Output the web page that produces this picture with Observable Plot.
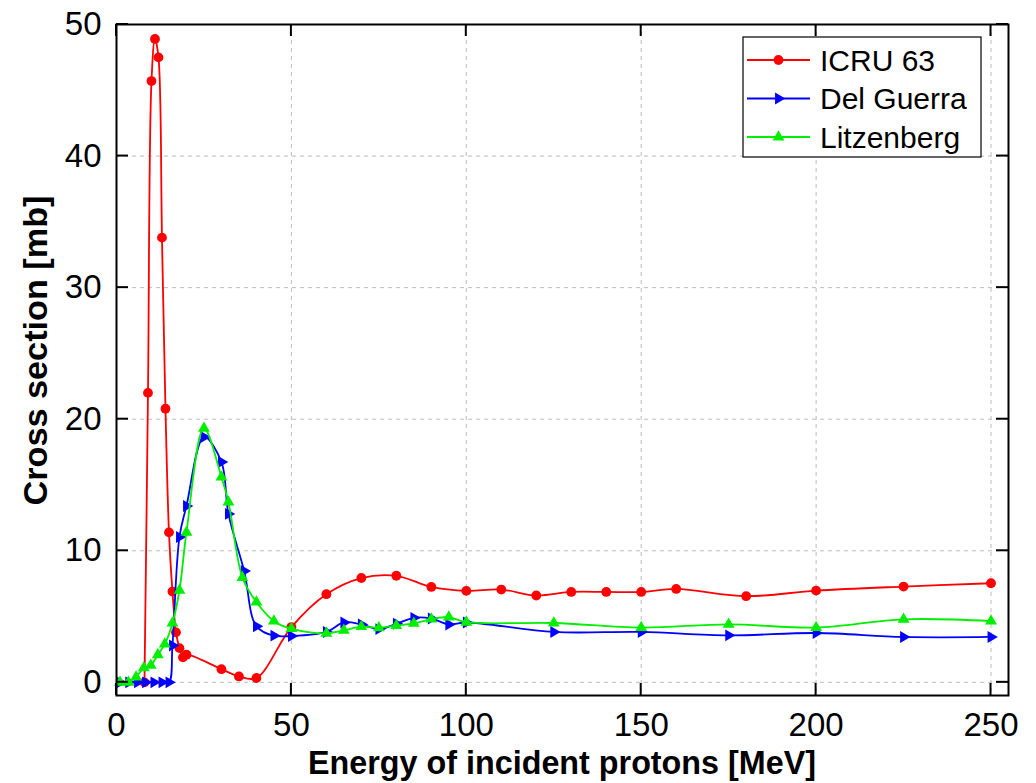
<!DOCTYPE html>
<html><head><meta charset="utf-8">
<script src="https://cdn.jsdelivr.net/npm/d3@7"></script>
<script src="https://cdn.jsdelivr.net/npm/@observablehq/plot@0.6"></script>
<style>body{margin:0;background:#fff;} svg{display:block;}</style>
</head><body><div id="chart"></div>
<script>
// ---- data (energy in MeV, cross section in mb) ----
const icruE = [8,9,10,11,12,13,14,15,16,17,18,19,20,30,35,40,50,60,70,80,90,100,110,120,130,140,150,160,180,200,225,250];
const icruS = [0,22.0,45.7,48.9,47.5,33.8,20.8,11.4,6.9,3.8,2.6,1.9,2.1,1.0,0.45,0.33,4.2,6.7,7.93,8.1,7.25,6.95,7.05,6.6,6.87,6.87,6.87,7.1,6.55,6.97,7.28,7.53];

const guerraE = [1,3.5,6,8.3,10.7,13,15,16,18,20,25,30,32,36.5,40,45,50,60,65,70,75,80,85,90,95,100,125,150,175,200,225,250];
const guerraS = [0,0,0,0,0,0,0,2.8,11.05,13.4,18.65,16.75,12.8,8.46,4.26,3.55,3.52,3.83,4.55,4.4,4.05,4.45,4.9,4.85,4.4,4.55,3.83,3.83,3.57,3.75,3.45,3.45];

const litzE = [1,3.4,5.6,7.8,9.8,11.8,13.8,16,18,20,25,30,32,36,40,45,50,60,65,70,75,80,85,90,95,100,125,150,175,200,225,250];
const litzS = [0,0,0.4,1.1,1.3,2.1,2.9,4.5,7.0,11.4,19.3,15.6,13.7,7.96,6.1,4.65,4.08,3.72,3.95,4.23,4.15,4.32,4.48,4.8,4.96,4.57,4.51,4.16,4.41,4.16,4.79,4.66];

const seriesNames = ["ICRU 63", "Del Guerra", "Litzenberg"];
const seriesColors = ["#ff0000", "#0000ff", "#00ee00"];
const seriesSymbols = ["circle", "triangle", "triangle"];
const seriesRotate = [0, 90, 0];
const seriesR = [4.9, 4.4, 4.4];

const xTicks = [0, 50, 100, 150, 200, 250];
const yTicks = [0, 10, 20, 30, 40, 50];
const xLabel = "Energy of incident protons [MeV]";
const yLabel = "Cross section [mb]";

// ---- build tables ----
const energies = [icruE, guerraE, litzE];
const values = [icruS, guerraS, litzS];
const tables = seriesNames.map((name, i) => energies[i].map((e, j) => ({name, E: e, S: values[i][j]})));

const FONT = "'Liberation Sans', Arial, sans-serif";
const marks = [
  Plot.gridX(xTicks, {stroke: "#bdbdbd", strokeOpacity: 1, strokeDasharray: "4,4", strokeWidth: 1}),
  Plot.gridY(yTicks, {stroke: "#bdbdbd", strokeOpacity: 1, strokeDasharray: "4,4", strokeWidth: 1})
];
tables.forEach((t, i) => {
  marks.push(Plot.line(t, {x: "E", y: "S", stroke: seriesColors[i], strokeWidth: 1.8, curve: "catmull-rom"}));
  marks.push(Plot.dot(t, {x: "E", y: "S", fill: seriesColors[i], stroke: "none", symbol: seriesSymbols[i], r: seriesR[i], rotate: seriesRotate[i]}));
});
marks.push(
  Plot.axisX(xTicks, {tickSize: 0, tickPadding: 17, fontSize: 33, label: null, tickFormat: d => String(d)}),
  Plot.axisY(yTicks, {tickSize: 0, tickPadding: 15, fontSize: 33, label: null, tickFormat: d => String(d)}),
  Plot.frame({stroke: "black", strokeWidth: 2})
);

const chart = Plot.plot({
  width: 1036, height: 783,
  marginLeft: 116, marginRight: 28, marginTop: 24, marginBottom: 88,
  style: {fontFamily: FONT, background: "white", color: "black"},
  x: {domain: [0, 255]},
  y: {domain: [-1, 50]},
  marks
});
document.getElementById("chart").appendChild(chart);

// ---- inward ticks, axis titles, legend ----
const sx = chart.scale("x"), sy = chart.scale("y");
const [x0, x1] = sx.range, [y0, y1] = sy.range; // y0 bottom, y1 top
const svg = d3.select(chart);
const g = svg.append("g").attr("stroke", "black").attr("stroke-width", 2);
const tl = 12;
xTicks.forEach(v => {
  const px = sx.apply(v);
  g.append("line").attr("x1", px).attr("x2", px).attr("y1", y0).attr("y2", y0 - tl);
  g.append("line").attr("x1", px).attr("x2", px).attr("y1", y1).attr("y2", y1 + tl);
});
yTicks.forEach(v => {
  const py = sy.apply(v);
  g.append("line").attr("x1", x0).attr("x2", x0 + tl).attr("y1", py).attr("y2", py);
  g.append("line").attr("x1", x1).attr("x2", x1 - tl).attr("y1", py).attr("y2", py);
});

svg.append("text")
  .attr("x", (x0 + x1) / 2).attr("y", 774)
  .attr("text-anchor", "middle").attr("font-weight", "bold").attr("font-size", 34)
  .attr("font-family", FONT)
  .attr("textLength", 508).attr("lengthAdjust", "spacingAndGlyphs")
  .text(xLabel);
svg.append("text")
  .attr("transform", `translate(47,${(y0 + y1) / 2 - 9}) rotate(-90)`)
  .attr("text-anchor", "middle").attr("font-weight", "bold").attr("font-size", 34)
  .attr("font-family", FONT)
  .attr("textLength", 310).attr("lengthAdjust", "spacingAndGlyphs")
  .text(yLabel);

// legend
const lg = svg.append("g").attr("transform", `translate(${x1 - 265},${y1 + 13})`);
lg.append("rect").attr("x", 0).attr("y", 0).attr("width", 238).attr("height", 120)
  .attr("fill", "white").attr("stroke", "black").attr("stroke-width", 1.2);
const symMap = {circle: d3.symbolCircle, triangle: d3.symbolTriangle};
seriesNames.forEach((name, i) => {
  const cy = 23 + i * 38.5;
  lg.append("line").attr("x1", 4).attr("x2", 67).attr("y1", cy).attr("y2", cy)
    .attr("stroke", seriesColors[i]).attr("stroke-width", 1.8);
  lg.append("path").attr("d", d3.symbol(symMap[seriesSymbols[i]], Math.PI * seriesR[i] * seriesR[i])())
    .attr("transform", `translate(35.5,${cy}) rotate(${seriesRotate[i]})`)
    .attr("fill", seriesColors[i]);
  lg.append("text").attr("x", 77).attr("y", cy + 10.5)
    .attr("text-anchor", "start")
    .attr("font-size", 30).attr("font-family", FONT)
    .text(name);
});
</script>
</body></html>
